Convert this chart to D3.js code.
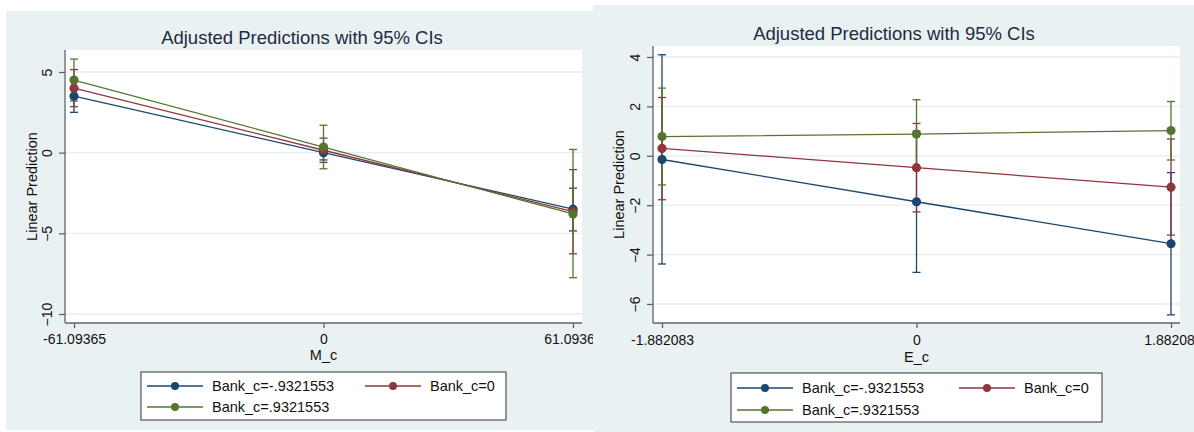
<!DOCTYPE html>
<html>
<head>
<meta charset="utf-8">
<script src="https://cdn.jsdelivr.net/npm/d3@7"></script>
<style>
  body { margin: 0; background: #ffffff; }
  svg { display: block; font-family: "Liberation Sans", Arial, sans-serif; }
</style>
</head>
<body>
<svg id="chart" width="1194" height="432"></svg>
<script>
// series shared by both panels
const seriesNames = ["Bank_c=-.9321553", "Bank_c=0", "Bank_c=.9321553"];

// left panel: margins over M_c
const mLevels = [-61.09365, 0, 61.09365];
const mTickLabels = ["-61.09365", "0", "61.09365"];
const mYTicks = [5, 0, -5, -10];
const mFit = [[3.5, 0.0, -3.5], [4.0, 0.15, -3.65], [4.5, 0.35, -3.8]];
const mLo  = [[2.5, -0.45, -4.85], [2.85, -0.6, -6.27], [3.2, -1.0, -7.75]];
const mHi  = [[4.5, 0.45, -2.2], [5.15, 0.9, -1.05], [5.8, 1.7, 0.2]];

// right panel: margins over E_c
const eLevels = [-1.882083, 0, 1.882083];
const eTickLabels = ["-1.882083", "0", "1.88208"];
const eYTicks = [4, 2, 0, -2, -4, -6];
const eFit = [[-0.15, -1.86, -3.56], [0.3, -0.48, -1.27], [0.78, 0.88, 1.02]];
const eLo  = [[-4.38, -4.72, -6.44], [-1.78, -2.27, -3.21], [-1.18, -0.51, -0.17]];
const eHi  = [[4.09, 1.0, -0.68], [2.36, 1.31, 0.68], [2.74, 2.27, 2.2]];

const colors = ["#1a476f", "#90353b", "#55752f"];
const bg = "#eaf1f3";

const svg = d3.select("#chart");

function drawPanel(id, cfg) {
  svg.append("clipPath").attr("id", id)
    .append("rect").attr("x", cfg.bg[0]).attr("y", cfg.bg[1])
    .attr("width", cfg.bg[2]).attr("height", cfg.bg[3]);

  const g = svg.append("g").attr("clip-path", `url(#${id})`);

  g.append("rect")
    .attr("x", cfg.bg[0]).attr("y", cfg.bg[1])
    .attr("width", cfg.bg[2]).attr("height", cfg.bg[3])
    .attr("fill", bg);

  const x = d3.scaleLinear().domain(d3.extent(cfg.levels)).range(cfg.xRange);
  const y = d3.scaleLinear().domain([cfg.yTicks[cfg.yTicks.length - 1], cfg.yTicks[0]]).range(cfg.yRange);
  const [px0, px1, py0, py1] = cfg.plot;

  g.append("rect")
    .attr("x", px0).attr("y", py0)
    .attr("width", px1 - px0).attr("height", py1 - py0)
    .attr("fill", "#ffffff");

  // gridlines
  g.selectAll(".grid")
    .data(cfg.yTicks)
    .enter()
    .append("line")
    .attr("x1", px0).attr("x2", px1)
    .attr("y1", (d) => y(d)).attr("y2", (d) => y(d))
    .attr("stroke", "#e6eef1")
    .attr("stroke-width", 1.3);

  // confidence intervals first, lines on top
  cfg.fit.forEach((vals, s) => {
    const cg = g.append("g").attr("stroke", colors[s]).attr("stroke-width", 1.3).attr("fill", "none");
    cfg.levels.forEach((lv, i) => {
      const cx = x(lv);
      cg.append("line").attr("x1", cx).attr("x2", cx)
        .attr("y1", y(cfg.lo[s][i])).attr("y2", y(cfg.hi[s][i]));
      [cfg.lo[s][i], cfg.hi[s][i]].forEach((v) => {
        cg.append("line").attr("x1", cx - 4).attr("x2", cx + 4)
          .attr("y1", y(v)).attr("y2", y(v));
      });
    });
  });

  cfg.fit.forEach((vals, s) => {
    const pts = cfg.levels.map((lv, i) => [x(lv), y(vals[i])]);
    g.append("path")
      .attr("d", d3.line()(pts))
      .attr("fill", "none")
      .attr("stroke", colors[s])
      .attr("stroke-width", 1.3);
    g.selectAll(null)
      .data(pts)
      .enter()
      .append("circle")
      .attr("cx", (d) => d[0]).attr("cy", (d) => d[1])
      .attr("r", 4.6)
      .attr("fill", colors[s]);
  });

  // axes
  const yAxis = g.append("g")
    .attr("transform", `translate(${px0},0)`)
    .call(d3.axisLeft(y).tickValues(cfg.yTicks).tickSize(6).tickPadding(0));
  yAxis.select(".domain").attr("d", `M0,${py0}V${py1}`);
  yAxis.selectAll(".tick text")
    .attr("x", null)
    .attr("dy", null)
    .attr("transform", `translate(${cfg.yLabelX - px0},0) rotate(-90)`)
    .attr("text-anchor", "middle")
    .attr("dominant-baseline", "central");

  const xAxis = g.append("g")
    .attr("transform", `translate(0,${py1})`)
    .call(d3.axisBottom(x).tickValues(cfg.levels).tickSize(5)
      .tickFormat((d, i) => cfg.tickLabels[i]));
  xAxis.select(".domain").attr("d", `M${px0},0H${px1}`);
  xAxis.selectAll(".tick text")
    .attr("y", cfg.xLabelY - py1)
    .attr("dy", null)
    .attr("dominant-baseline", "central");
  // last label sits against the panel edge, as in the source image
  if (cfg.lastLabelShift) {
    xAxis.selectAll(".tick text").filter((d, i) => i === cfg.levels.length - 1)
      .attr("x", cfg.lastLabelShift);
  }

  g.selectAll(".domain, .tick line").attr("stroke", "#5f6468").attr("stroke-width", 1.3);
  g.selectAll(".tick text")
    .attr("fill", "#111")
    .style("font-size", "14px")
    .style("font-family", "'Liberation Sans', Arial, sans-serif");

  // titles
  g.append("text")
    .attr("x", cfg.titleX).attr("y", cfg.titleY)
    .attr("text-anchor", "middle").attr("dominant-baseline", "central")
    .attr("fill", "#1d2b40")
    .style("font-size", "18.5px")
    .text("Adjusted Predictions with 95% CIs");

  g.append("text")
    .attr("transform", `translate(${cfg.yTitleX},${(py0 + py1) / 2}) rotate(-90)`)
    .attr("text-anchor", "middle").attr("dominant-baseline", "central")
    .attr("fill", "#111")
    .style("font-size", "14.5px")
    .text("Linear Prediction");

  g.append("text")
    .attr("x", x(0)).attr("y", cfg.xTitleY)
    .attr("text-anchor", "middle").attr("dominant-baseline", "central")
    .attr("fill", "#111")
    .style("font-size", "14.5px")
    .text(cfg.xTitle);

  // legend
  const L = cfg.legend;
  g.append("rect")
    .attr("x", L.box[0]).attr("y", L.box[1])
    .attr("width", L.box[2]).attr("height", L.box[3])
    .attr("fill", "#ffffff").attr("stroke", "#444").attr("stroke-width", 1.1);
  const slots = [[L.cols[0], L.rows[0]], [L.cols[1], L.rows[0]], [L.cols[0], L.rows[1]]];
  seriesNames.forEach((name, s) => {
    const [lx, ly] = slots[s];
    g.append("line")
      .attr("x1", lx).attr("x2", lx + 56)
      .attr("y1", ly).attr("y2", ly)
      .attr("stroke", colors[s]).attr("stroke-width", 1.3);
    g.append("circle")
      .attr("cx", lx + 28).attr("cy", ly).attr("r", 4)
      .attr("fill", colors[s]);
    g.append("text")
      .attr("x", lx + 65).attr("y", ly)
      .attr("dominant-baseline", "central")
      .attr("fill", "#111")
      .style("font-size", "14.5px")
      .text(name);
  });
}

drawPanel("clipM", {
  bg: [6, 11, 587, 419],
  plot: [65, 582, 50, 323],
  levels: mLevels, tickLabels: mTickLabels, yTicks: mYTicks,
  fit: mFit, lo: mLo, hi: mHi,
  xRange: [74, 573], yRange: [314, 72],
  yLabelX: 47, yTitleX: 31.5, xLabelY: 339, xTitleY: 355,
  titleX: 302, titleY: 37, xTitle: "M_c",
  legend: { box: [141, 372, 365, 48], cols: [147, 365], rows: [386, 407] }
});

drawPanel("clipE", {
  bg: [593, 5, 601, 427],
  plot: [653, 1180, 46, 323],
  levels: eLevels, tickLabels: eTickLabels, yTicks: eYTicks,
  fit: eFit, lo: eLo, hi: eHi,
  xRange: [662, 1171], yRange: [304, 57],
  yLabelX: 634.5, yTitleX: 618.5, xLabelY: 340, xTitleY: 357,
  titleX: 894, titleY: 33, xTitle: "E_c",
  lastLabelShift: -2,
  legend: { box: [731, 373, 371, 49], cols: [737, 959], rows: [388, 410] }
});
</script>
</body>
</html>
